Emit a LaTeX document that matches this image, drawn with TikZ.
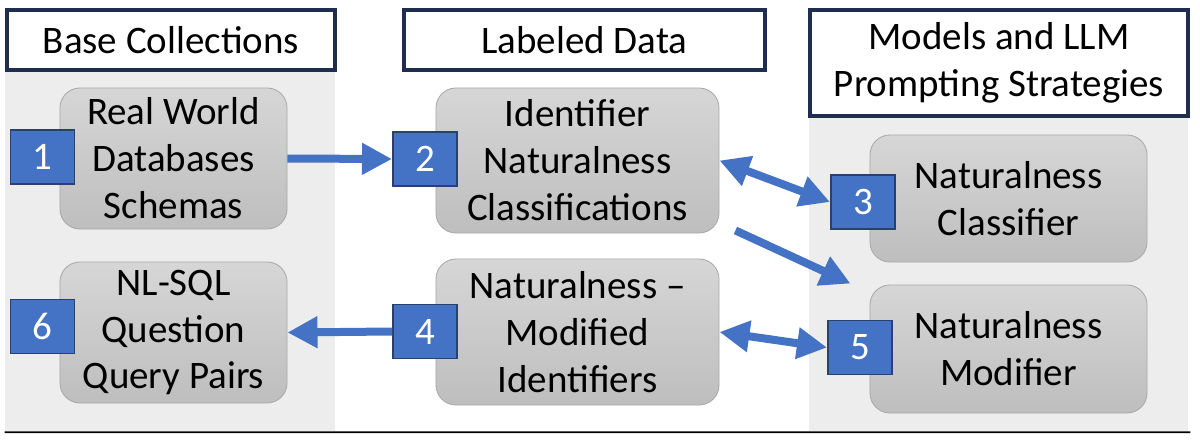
\documentclass[tikz,border=0pt]{standalone}
\usepackage{fontspec}
\setmainfont{Carlito}
\usetikzlibrary{positioning,calc,arrows.meta}
\definecolor{navy}{HTML}{1F2D4E}
\definecolor{numberblue}{HTML}{4472C4}
\definecolor{numberborder}{HTML}{2A4170}
\definecolor{panelgray}{HTML}{EDEDED}
\definecolor{boxtop}{HTML}{D6D6D6}
\definecolor{boxbottom}{HTML}{BEBEBE}
\definecolor{boxborder}{HTML}{A9A9A9}
\tikzstyle{panel_node}=[rectangle, fill=panelgray, inner sep=0mm]
\tikzstyle{header_node}=[rectangle, draw=navy, line width=0.1cm, fill=white, align=center, inner sep=0mm]
\tikzstyle{stage_node}=[rectangle, rounded corners=0.5cm, draw=boxborder, line width=0.6pt, top color=boxtop, bottom color=boxbottom, align=center, inner sep=0mm]
\tikzstyle{stage_node_wide}=[stage_node, minimum width=7.075cm]
\tikzstyle{number_node}=[rectangle, draw=numberborder, line width=1.4pt, fill=numberblue, text=white, minimum width=1.6cm, minimum height=1.35cm, inner sep=0mm]
\tikzstyle{flow_arrow}=[draw=numberblue, line width=0.2cm, -{Triangle[length=0.75cm,width=0.75cm]}]
\tikzstyle{flow_arrow_both}=[flow_arrow, {Triangle[length=0.75cm,width=0.75cm]}-{Triangle[length=0.75cm,width=0.75cm]}]

\begin{document}
\begin{tikzpicture}[x=0.025cm,y=-0.025cm,font=\fontsize{27.7}{33.4}\selectfont]

            \useasboundingbox (0,0) rectangle (1200,440);

            % Panels
            \node[panel_node,minimum width=8.25cm,minimum height=8.975cm] (base_panel) at (170,251.5) {};
            \node[panel_node,minimum width=9.475cm,minimum height=7.825cm] (models_panel) at (998.5,274.5) {};
            \draw[black,line width=1.2pt] ($(base_panel.south west)+(0,1)$) -- ($(models_panel.south east)+(2,1)$);

            % Headers
            \node[header_node,minimum width=8.2cm,minimum height=1.5cm] (base_header) at (171,40) {Base Collections};
            \node[header_node,minimum width=9.025cm,minimum height=1.5cm] (labeled_header) at (584.5,40) {Labeled Data};
            \node[header_node,minimum width=9.45cm,minimum height=2.65cm] (models_header) at (999,63) {Models and LLM\\Prompting Strategies};

            % Base collections
            \node[stage_node,minimum width=5.675cm,minimum height=3.525cm] (schemas) at (173.5,158.5) {Real World\\Databases\\Schemas};
            \node[stage_node,minimum width=5.675cm,minimum height=3.525cm] (pairs) at (173.5,332.5) {NL-SQL\\Question\\Query Pairs};

            % Labeled data
            \node[stage_node_wide,minimum height=3.625cm] (classifications) at (577.5,160.5) {Identifier\\Naturalness\\Classifications};
            \node[stage_node_wide,minimum height=3.65cm] (identifiers) at (577.5,332) {Naturalness --\\Modified\\Identifiers};

            % Models
            \node[stage_node,minimum width=6.925cm,minimum height=3.175cm] (classifier) at (1008.5,198.5) {Naturalness\\Classifier};
            \node[stage_node,minimum width=6.925cm,minimum height=3.2cm] (modifier) at (1008.5,349) {Naturalness\\Modifier};

            % Numbers
            \node[number_node] (num1) at (42.5,157) {1};
            \node[number_node] (num2) at (425,159) {2};
            \node[number_node] (num3) at (863,202) {3};
            \node[number_node] (num4) at (425,331.5) {4};
            \node[number_node] (num5) at (860,347.5) {5};
            \node[number_node] (num6) at (42.5,326.5) {6};

            % Arrows
            \coordinate (diag_start) at ($(classifications.south east)+(16,-3)$);
            \coordinate (diag_end) at ($(modifier.north west)+(-19,-1)$);
            \draw[flow_arrow] (schemas.east) -- (num2.west);
            \draw[flow_arrow] (num4.west) -- (pairs.east);
            \draw[flow_arrow_both] (classifications.east) -- (num3.west);
            \draw[flow_arrow_both] (identifiers.east) -- (num5.west);
            \draw[flow_arrow] (diag_start) -- (diag_end);

\end{tikzpicture}
\end{document}
